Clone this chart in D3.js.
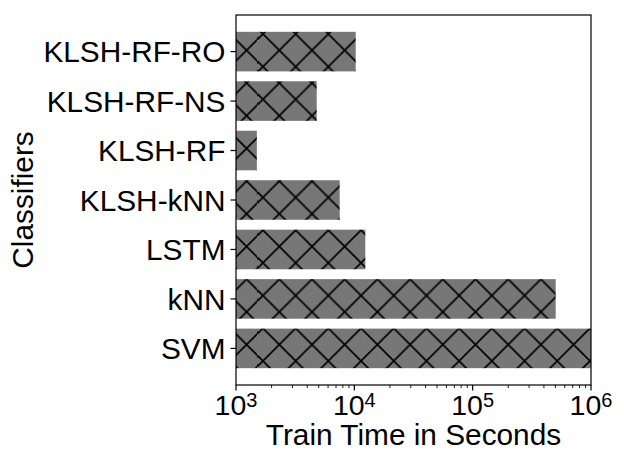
<!DOCTYPE html>
<html>
<head>
<meta charset="utf-8">
<script src="https://cdn.jsdelivr.net/npm/d3@7"></script>
<style>
  html, body { margin: 0; padding: 0; background: #fff; }
  text { font-family: "Liberation Sans", Arial, Helvetica, sans-serif; fill: #000; }
</style>
</head>
<body>
<svg id="chart" width="624" height="466"></svg>
<script>
// Data (top-to-bottom order as displayed)
const categories = ["KLSH-RF-RO", "KLSH-RF-NS", "KLSH-RF", "KLSH-kNN", "LSTM", "kNN", "SVM"];
const trainTime = [10270, 4810, 1500, 7520, 12380, 503000, 1300000];
const xTickValues = [1e3, 1e4, 1e5, 1e6];
const xTickExponents = ["3", "4", "5", "6"];
const xLabel = "Train Time in Seconds";
const yLabel = "Classifiers";

const svg = d3.select("#chart");
const margin = { left: 236, top: 15, right: 33, bottom: 81 };
const W = 624 - margin.left - margin.right;   // 355
const H = 466 - margin.top - margin.bottom;   // 370

const x = d3.scaleLog().domain([1e3, 1e6]).range([0, W]);
const y = d3.scaleBand().domain(categories).range([0, H]).paddingInner(0.2).paddingOuter(0.34);

const defs = svg.append("defs");
const d = 32.7;
// hatch lattice anchored so a crossing sits at absolute (279.3, 50.3)
const pat = defs.append("pattern")
  .attr("id", "xhatch")
  .attr("patternUnits", "userSpaceOnUse")
  .attr("x", 279.3 - d / 2 - margin.left)
  .attr("y", 50.3 - d / 2 - margin.top)
  .attr("width", d).attr("height", d);
pat.append("rect").attr("width", d).attr("height", d).attr("fill", "#777777");
pat.append("line").attr("x1", -1).attr("y1", -1).attr("x2", d + 1).attr("y2", d + 1)
  .attr("stroke", "#000").attr("stroke-width", 1.7);
pat.append("line").attr("x1", -1).attr("y1", d + 1).attr("x2", d + 1).attr("y2", -1)
  .attr("stroke", "#000").attr("stroke-width", 1.7);

defs.append("clipPath").attr("id", "plotclip")
  .append("rect").attr("width", W).attr("height", H);

const g = svg.append("g").attr("transform", `translate(${margin.left},${margin.top})`);

// bars
g.append("g").attr("clip-path", "url(#plotclip)")
  .selectAll("rect")
  .data(categories.map((c, i) => ({ c, v: trainTime[i] })))
  .join("rect")
  .attr("x", -2)
  .attr("y", dd => y(dd.c))
  .attr("width", dd => x(dd.v) + 2)
  .attr("height", y.bandwidth())
  .attr("fill", "url(#xhatch)");

// y axis
const yAxis = d3.axisLeft(y).tickSize(5.5).tickPadding(5);
const yg = g.append("g").call(yAxis);
yg.select(".domain").remove();
yg.selectAll(".tick line").attr("stroke", "#000").attr("stroke-width", 1.2);
yg.selectAll(".tick text").attr("font-size", "29.8px").attr("dy", "0.36em")
  .style("font-family", "'Liberation Sans', Arial, sans-serif");

// x axis minor ticks
const minor = [];
for (let e = 3; e < 6; e++) for (let m = 2; m <= 9; m++) minor.push(m * Math.pow(10, e));
g.append("g").selectAll("line").data(minor).join("line")
  .attr("x1", v => x(v)).attr("x2", v => x(v))
  .attr("y1", H).attr("y2", H + 3)
  .attr("stroke", "#000").attr("stroke-width", 0.9);

// x axis major ticks
const xg = g.append("g");
xg.selectAll("line").data(xTickValues).join("line")
  .attr("x1", v => x(v)).attr("x2", v => x(v))
  .attr("y1", H).attr("y2", H + 5.5)
  .attr("stroke", "#000").attr("stroke-width", 1.2);
const xt = xg.selectAll("text").data(xTickValues).join("text")
  .attr("x", v => x(v)).attr("y", H + 30)
  .attr("text-anchor", "middle");
xt.append("tspan").attr("font-size", "28.5px").text("10");
xt.append("tspan").attr("font-size", "20px").attr("dy", -8)
  .text((v, i) => xTickExponents[i]);

// frame
g.append("rect").attr("width", W).attr("height", H)
  .attr("fill", "none").attr("stroke", "#000").attr("stroke-width", 1.2);

// labels
svg.append("text")
  .attr("x", margin.left + W / 2).attr("y", 445)
  .attr("text-anchor", "middle").attr("font-size", "29.8px")
  .text(xLabel);
svg.append("text")
  .attr("transform", `translate(33.3, ${margin.top + H / 2}) rotate(-90)`)
  .attr("text-anchor", "middle").attr("font-size", "29.8px")
  .text(yLabel);
</script>
</body>
</html>
